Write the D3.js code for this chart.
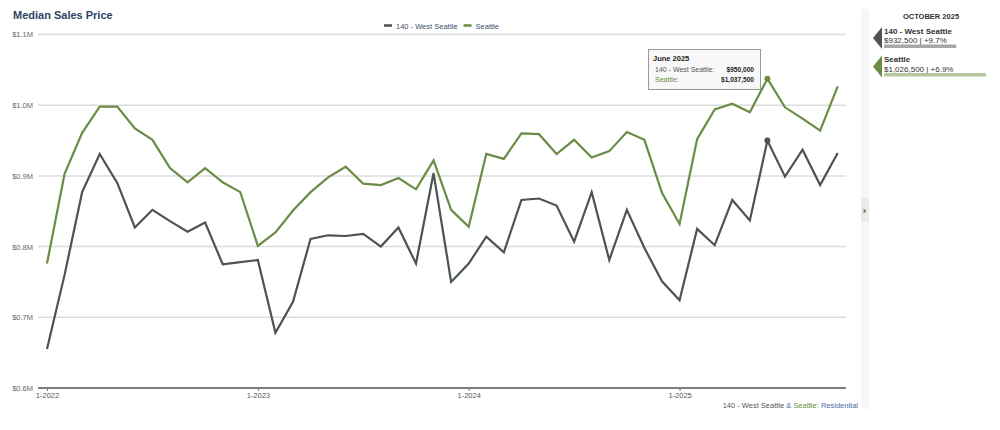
<!DOCTYPE html>
<html>
<head>
<meta charset="utf-8">
<script src="https://cdn.jsdelivr.net/npm/d3@7"></script>
<style>
  html, body { margin: 0; padding: 0; background: #fff; }
  svg { display: block; font-family: "Liberation Sans", Arial, sans-serif; }
</style>
</head>
<body>
<svg id="chart" width="1000" height="430"></svg>
<script>
const months = [
  "2022-01","2022-02","2022-03","2022-04","2022-05","2022-06","2022-07","2022-08","2022-09","2022-10","2022-11","2022-12",
  "2023-01","2023-02","2023-03","2023-04","2023-05","2023-06","2023-07","2023-08","2023-09","2023-10","2023-11","2023-12",
  "2024-01","2024-02","2024-03","2024-04","2024-05","2024-06","2024-07","2024-08","2024-09","2024-10","2024-11","2024-12",
  "2025-01","2025-02","2025-03","2025-04","2025-05","2025-06","2025-07","2025-08","2025-09","2025-10"
];
const westSeattle = [
  655000, 760000, 877000, 931000, 890000, 827000, 852000, 836000, 821000, 834000, 775000, 778000,
  781000, 678000, 722000, 811000, 816000, 815000, 818000, 800000, 827000, 776000, 904000, 750000,
  776000, 814000, 792000, 866000, 868000, 858000, 807000, 877000, 781000, 852000, 798000, 751000,
  724000, 825000, 802000, 866000, 837000, 950000, 899000, 937000, 887000, 932500
];
const seattle = [
  776000, 903000, 961000, 998000, 998000, 967000, 951000, 911000, 891000, 911000, 891000, 877000,
  801000, 820000, 851000, 877000, 898000, 913000, 889000, 887000, 897000, 881000, 922000, 852000,
  828000, 931000, 924000, 960000, 959000, 931000, 951000, 926000, 935000, 962000, 951000, 876000,
  832000, 952000, 994000, 1002000, 990000, 1037500, 997000, 981000, 964000, 1026500
];
const yTicks = [600000, 700000, 800000, 900000, 1000000, 1100000];
const yTickLabels = ["$0.6M", "$0.7M", "$0.8M", "$0.9M", "$1.0M", "$1.1M"];
const xTickMonths = ["2022-01", "2023-01", "2024-01", "2025-01"];
const xTickLabels = ["1-2022", "1-2023", "1-2024", "1-2025"];
const seriesNames = ["140 - West Seattle", "Seattle"];
const latestMonthLabel = "OCTOBER 2025";
const latestChange = ["+9.7%", "+6.9%"];
const tooltipMonth = "2025-06";
const tooltipTitle = "June 2025";

const colors = ["#4b5354", "#6a8c45"];
const svg = d3.select("#chart");

const x = d3.scaleLinear().domain([0, months.length - 1]).range([47, 837.7]);
const y = d3.scaleLinear().domain([600000, 1100000]).range([388, 34.5]);
const money = d3.format("$,.0f");

// right side strip
svg.append("rect").attr("x", 861).attr("y", 9).attr("width", 8).attr("height", 400).attr("fill", "#f6f6f6");
svg.append("rect").attr("x", 861).attr("y", 198).attr("width", 8).attr("height", 24).attr("fill", "#ebebeb");
svg.append("path").attr("d", "M863.5,208.5 L866.5,211 L863.5,213.5 Z").attr("fill", "#6a8c45");

// title
svg.append("text").attr("x", 13).attr("y", 19).text("Median Sales Price")
  .attr("font-size", 11).attr("font-weight", "bold").attr("fill", "#2c4466");

// legend
const legend = svg.append("g");
let lx = 384;
seriesNames.forEach((name, i) => {
  legend.append("line").attr("x1", lx).attr("x2", lx + 8).attr("y1", 25.5).attr("y2", 25.5)
    .attr("stroke", colors[i]).attr("stroke-width", 2.5);
  const t = legend.append("text").attr("x", lx + 12).attr("y", 28.5).text(name)
    .attr("font-size", 7.5).attr("fill", "#3d4f6b");
  lx += 12 + t.node().getComputedTextLength() + 6;
});

// y labels
const gAxis = svg.append("g").attr("transform", "translate(38,0)").call(
  d3.axisLeft(y).tickValues(yTicks).tickFormat((d, i) => yTickLabels[i]).tickSize(0).tickPadding(5)
);
gAxis.select(".domain").remove();
gAxis.selectAll("text").attr("font-size", 7.5).attr("fill", "#666").attr("font-family", "Liberation Sans, Arial, sans-serif");
// gridlines
svg.append("g").selectAll("line").data(yTicks.filter(d => d > 600000)).join("line")
  .attr("x1", 38).attr("x2", 846).attr("y1", d => y(d)).attr("y2", d => y(d))
  .attr("stroke", "#dcdcdc").attr("stroke-width", 1.5);

// x axis
const xIdx = xTickMonths.map(m => months.indexOf(m));
const gx = svg.append("g").attr("transform", "translate(0,388)").call(
  d3.axisBottom(x).tickValues(xIdx).tickFormat((d, i) => xTickLabels[i]).tickSize(3).tickSizeOuter(0).tickPadding(2)
);
gx.select(".domain").attr("d", "M38,0H846").attr("stroke", "#555").attr("stroke-width", 1.5);
gx.selectAll(".tick line").attr("stroke", "#777");
gx.selectAll("text").attr("font-size", 7.5).attr("fill", "#555").attr("font-family", "Liberation Sans, Arial, sans-serif");

// lines
const line = d3.line().x((d, i) => x(i)).y(d => y(d));
[westSeattle, seattle].forEach((s, i) => {
  svg.append("path").datum(s).attr("d", line).attr("fill", "none")
    .attr("stroke", colors[i]).attr("stroke-width", 2.2).attr("stroke-linejoin", "miter");
});

// tooltip dots
const ti = months.indexOf(tooltipMonth);
[westSeattle, seattle].forEach((s, i) => {
  svg.append("circle").attr("cx", x(ti)).attr("cy", y(s[ti])).attr("r", 3).attr("fill", colors[i]);
});

// tooltip box
const tip = svg.append("g");
tip.append("rect").attr("x", 648.5).attr("y", 49.5).attr("width", 112).attr("height", 40)
  .attr("fill", "#f8f8f8").attr("stroke", "#999").attr("stroke-width", 1);
tip.append("text").attr("x", 653).attr("y", 61).text(tooltipTitle)
  .attr("font-size", 7.5).attr("font-weight", "bold").attr("fill", "#222");
const tipColors = ["#555", "#6a8c45"];
[westSeattle, seattle].forEach((s, i) => {
  tip.append("text").attr("x", 655).attr("y", 71.5 + i * 10.5).text(seriesNames[i] + ":")
    .attr("font-size", 7).attr("fill", tipColors[i]);
  tip.append("text").attr("x", 754).attr("y", 71.5 + i * 10.5).attr("text-anchor", "end").text(money(s[ti]))
    .attr("font-size", 6.6).attr("font-weight", "bold").attr("fill", "#222");
});

// caption
const cap = svg.append("text").attr("x", 858).attr("y", 407.5).attr("text-anchor", "end").attr("font-size", 7.5);
cap.append("tspan").text(seriesNames[0]).attr("fill", "#555");
cap.append("tspan").text(" & ").attr("fill", "#4a6fa5");
cap.append("tspan").text(seriesNames[1]).attr("fill", "#6a8c45");
cap.append("tspan").text(": Residential").attr("fill", "#4a6fa5");

// right panel
svg.append("text").attr("x", 931).attr("y", 18.5).attr("text-anchor", "middle").text(latestMonthLabel)
  .attr("font-size", 7.5).attr("font-weight", "bold").attr("fill", "#333");
const barScale = d3.scaleLinear().domain([0, 1026500]).range([0, 102]);
const barColors = ["#a6a8aa", "#b6c6a2"];
const last = months.length - 1;
[westSeattle, seattle].forEach((s, i) => {
  const top = 27 + i * 28.5;
  svg.append("path").attr("d", `M873,${top + 11} L882,${top} L882,${top + 22} Z`).attr("fill", colors[i]);
  svg.append("text").attr("x", 884).attr("y", top + 6.5).text(seriesNames[i])
    .attr("font-size", 8).attr("font-weight", "bold").attr("fill", "#333");
  svg.append("text").attr("x", 884).attr("y", top + 16).text(money(s[last]) + " | " + latestChange[i])
    .attr("font-size", 8).attr("fill", "#333");
  svg.append("rect").attr("x", 884).attr("y", top + 17.5).attr("width", barScale(s[last]) * (i === 0 ? 0.78 : 1))
    .attr("height", 3.5).attr("fill", barColors[i]);
});
</script>
</body>
</html>
